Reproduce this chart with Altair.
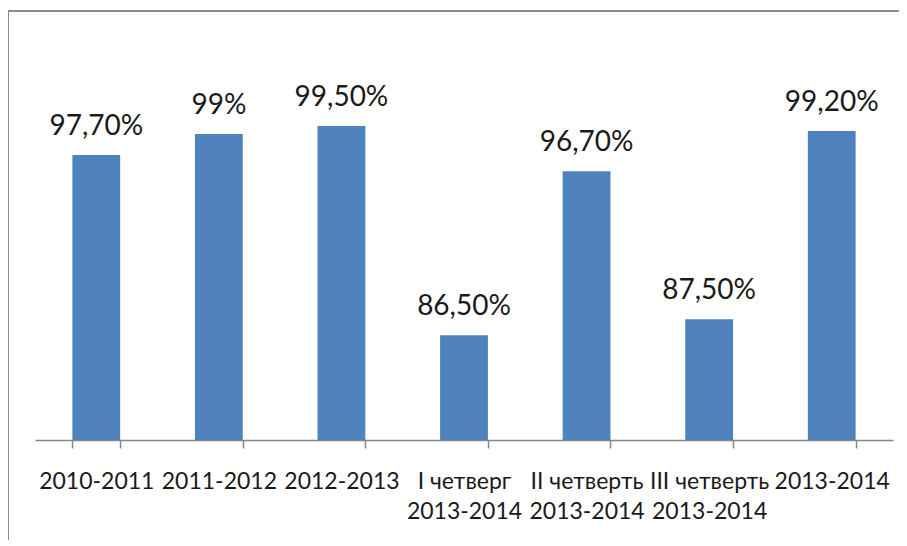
import altair as alt
import pandas as pd

categories = ["2010-2011", "2011-2012", "2012-2013", "I четверг|2013-2014",
              "II четверть|2013-2014", "III четверть|2013-2014", "2013-2014"]
values = [97.7, 99.0, 99.5, 86.5, 96.7, 87.5, 99.2]
labels = ["97,70%", "99%", "99,50%", "86,50%", "96,70%", "87,50%", "99,20%"]
baseline_value = 80

df = pd.DataFrame({"cat": categories, "val": values, "lab": labels, "base": baseline_value})

FONT = "Lato"
GRAY = "#868686"

x = alt.X("cat:N", sort=categories, title=None,
          scale=alt.Scale(paddingInner=0.61, paddingOuter=0.305),
          axis=alt.Axis(labelExpr="datum.value ? split(datum.value, '|') : ''", labelAngle=0,
                        labelFont=FONT, labelFontSize=23, labelColor="#1a1a1a",
                        labelLineHeight=30, labelPadding=22,
                        tickBand="extent", tickSize=8, tickColor=GRAY,
                        domainColor=GRAY, domainWidth=1.5, tickWidth=1.5,
                        labelLimit=0))
y = alt.Y("val:Q", title=None, scale=alt.Scale(domain=[80, 100], clamp=False, nice=False, zero=False),
          axis=None)

bars = alt.Chart(df).mark_bar(color="#4F81BD").encode(x=x, y=y, y2="base:Q")
text = alt.Chart(df).mark_text(baseline="alphabetic", dy=-20, font=FONT, fontSize=28,
                               color="#1a1a1a").encode(x=x, y=y, text="lab:N")

frame_top = alt.Chart(df).mark_rule(color="#8c8c8c", strokeWidth=2).encode(
    x=alt.value(-27), x2=alt.value(900), y=alt.value(-107))
frame_left = alt.Chart(df).mark_rule(color="#8c8c8c", strokeWidth=2).encode(
    x=alt.value(-27), y=alt.value(-108), y2=alt.value(440))

chart = alt.layer(frame_top, frame_left, bars, text).properties(
    width=858, height=322,
    padding={"left": 27, "top": 110, "right": 6, "bottom": 100},
    autosize=alt.AutoSizeParams(type="none"),
    background="white",
).configure_view(stroke="transparent", strokeWidth=0)

chart.save("out.html", embed_options={"renderer": "svg", "actions": False})
